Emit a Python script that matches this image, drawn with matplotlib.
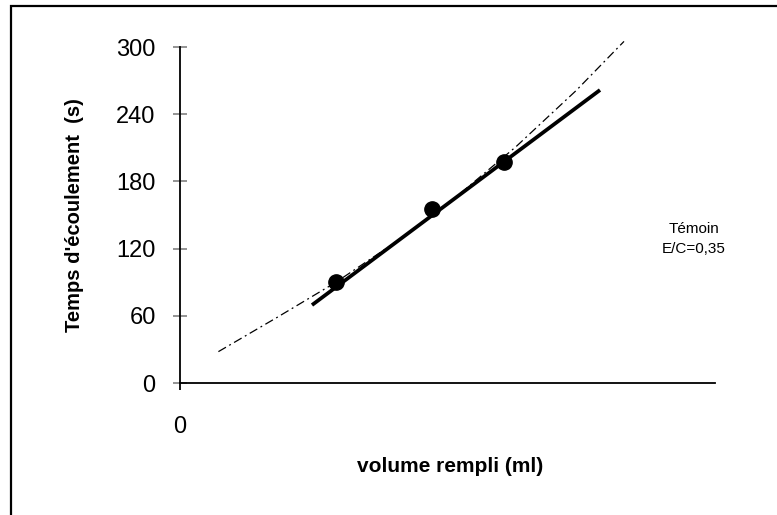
import matplotlib.pyplot as plt
from matplotlib.patches import Rectangle

plt.rcParams['font.family'] = ['Liberation Sans', 'DejaVu Sans']

# measured points (volume in ml, time in s)
vol = [130, 210, 270]
temps = [90, 155, 197]

# linear fit drawn as a thick line
fit_x = [110, 350]
fit_y = [69.6, 261.6]

# curved trend (dash-dot)
curve_x = [32, 80, 130, 180, 230, 280, 330, 370]
curve_y = [28, 58, 90, 126, 166, 211, 261, 305]

y_ticks = [0, 60, 120, 180, 240, 300]

fig = plt.figure(figsize=(7.77, 5.15), dpi=100)
ax = fig.add_axes([180 / 777, 1 - 383 / 515, (715 - 180) / 777, (383 - 47) / 515])

ax.plot(curve_x, curve_y, color='black', lw=0.9, linestyle=(0, (7, 3, 1.5, 3)), clip_on=False)
ax.plot(fit_x, fit_y, color='black', lw=2.7, solid_capstyle='butt')
ax.plot(vol, temps, 'o', color='black', markersize=11)

ax.set_xlim(0, (715 - 180) / 1.2)
ax.set_ylim(0, 300)

for s in ['top', 'right']:
    ax.spines[s].set_visible(False)
for s in ['left', 'bottom']:
    ax.spines[s].set_linewidth(1.3)

ax.set_yticks(y_ticks)
ax.tick_params(axis='y', direction='inout', length=10, width=1.2, color='gray',
               labelsize=17, pad=12.5)
ax.set_xticks([0])
ax.tick_params(axis='x', direction='out', length=5, width=1.3, color='black',
               labelsize=17, pad=19)

ax.set_ylabel("Temps d'écoulement  (s)", fontsize=14.5, fontweight='bold')
ax.yaxis.set_label_coords(-(180 - 84) / 535, 0.5)
ax.set_xlabel("volume rempli (ml)", fontsize=15, fontweight='bold')
ax.xaxis.set_label_coords((450 - 180) / 535, -(457 - 383) / 336)

fig.text(694 / 777, 1 - 239 / 515, "Témoin\nE/C=0,35", ha='center', va='center',
         fontsize=11, linespacing=1.5)

# outer frame (cut off at right and bottom)
fig.add_artist(Rectangle((11 / 777, -0.5), 2, 0.5 + 1 - 6 / 515, transform=fig.transFigure,
                         fill=False, edgecolor='black', lw=1.6))

fig.savefig('out.png', dpi=100)
